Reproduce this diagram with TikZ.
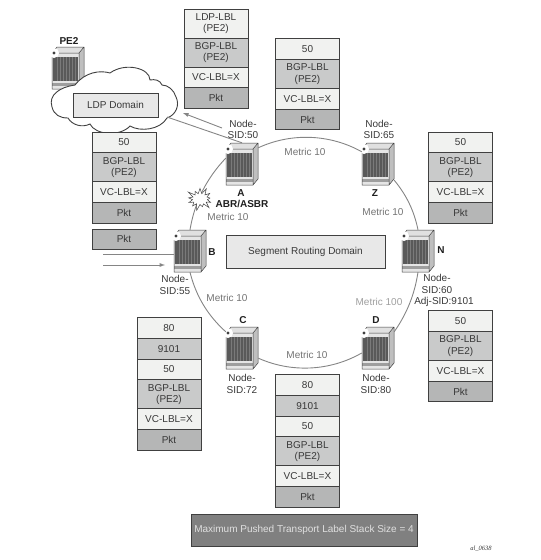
\documentclass[tikz,border=0pt]{standalone}
\usepackage{fontspec}
\setmainfont{Liberation Sans}
\newfontfamily\figfont{Liberation Serif}
\usepackage{tikz}
\usetikzlibrary{shapes,arrows,positioning}

\definecolor{celllight}{HTML}{F1F2F0}
\definecolor{cellmid}{HTML}{C9CACA}
\definecolor{celldark}{HTML}{B5B6B6}
\definecolor{edgedark}{HTML}{404040}
\definecolor{linkgray}{HTML}{858585}

% front, top and side of a chassis around the node #1
\newcommand{\router}[2]{
    \begin{scope}[shift={(#2)}]
        \node(#1)[rtr] at (0,0) {};
        \fill[black!12] (-16,-15) -- (-11,-21) -- (16,-21) -- (11,-15) -- cycle;
        \fill[black!25] (11,-15) -- (16,-21) -- (16,15) -- (11,21) -- cycle;
        \fill[black!10] (-16,-15) rectangle (11,21);
        \fill[black!65] (-15,-11) rectangle (10,13);
        \foreach \xs in {-11,-8,...,8} {
            \draw[black!52, line width=0.6pt] (\xs,-11) -- (\xs,13);
        }
        \fill[black!38] (-16,15) rectangle (11,18);
        \draw[edgedark, line width=0.5pt] (-16,-15) -- (-11,-21) -- (16,-21) -- (16,15)
            -- (11,21) -- (-16,21) -- cycle (-16,-15) -- (11,-15) -- (16,-21) (11,-15) -- (11,21);
        \fill[white] (-14,-15) circle (5);
        \fill[edgedark] (-14,-15) circle (1.6);
    \end{scope}
}

\begin{document}
\begin{tikzpicture}[x=1pt, y=-1pt, align=center, node distance=0pt]
    \tikzset{
        every node/.style =   { font=\fontsize{10}{11.5}\selectfont
                              , text=black!78
        }
        , rtr/.style      =   { rectangle
                              , minimum width=32pt
                              , minimum height=42pt
                              , inner sep=0pt
        }
        , cell/.style     =   { rectangle
                              , draw=edgedark
                              , line width=0.9pt
                              , outer sep=0pt
                              , inner sep=0pt
                              , minimum width=64pt
                              , minimum height=20.8pt
        }
        , lt/.style       =   { cell, fill=celllight }
        , md/.style       =   { cell, fill=cellmid }
        , dk/.style       =   { cell, fill=celldark }
        , two/.style      =   { minimum height=29pt }
        , dombox/.style   =   { rectangle
                              , draw=edgedark
                              , line width=0.9pt
                              , fill=black!9
                              , inner sep=0pt
        }
        , tag/.style      =   { inner sep=0pt }
        , bold/.style     =   { inner sep=0pt
                              , font=\fontsize{10}{11.5}\selectfont\bfseries
                              , text=black!88
        }
        , metric/.style   =   { inner sep=0pt
                              , text=black!55
        }
        , ring/.style     =   { linkgray, line width=0.9pt, looseness=0.9 }
        , flow/.style     =   { linkgray, line width=0.9pt }
    }
    \useasboundingbox (0,0) rectangle (541,560);

    % routers
    \router{pe2}{68,68}
    \router{a}{242,164}
    \router{z}{378,164}
    \router{n}{418,251}
    \router{b}{190,251}
    \router{c}{242,348}
    \router{d}{378,348}

    % ring
    \draw[ring] (a.45)    to[bend left=27] (z.143);
    \draw[ring] (z.-45)   to[bend left=14] (n.north);
    \draw[ring] (n.south) to[bend left=13] (d.45);
    \draw[ring] (d.197)   to[bend left=27] (c.-32);
    \draw[ring] (c.135)   to[bend left=17] (b.south);
    \draw[ring] (b.north) to[bend left=17] (a.160);

    \node(burst)[starburst, starburst points=13, starburst point height=7pt
        , draw=edgedark, fill=white, line width=0.5pt
        , minimum width=29pt, minimum height=25pt, inner sep=0pt] at (200,199) {};

    % LDP side
    \draw[edgedark, fill=white, line width=0.9pt]
        (75,85) .. controls (60,87) and (48,95) .. (52,107)
        .. controls (54,115) and (60,118) .. (68,118)
        .. controls (72,125) and (82,128) .. (90,124)
        .. controls (95,135) and (120,137) .. (130,126)
        .. controls (140,132) and (160,130) .. (167,118)
        .. controls (176,115) and (180,105) .. (176,97)
        .. controls (174,90) and (168,85) .. (162,85)
        .. controls (160,80) and (155,79) .. (150,80)
        .. controls (150,68) and (125,62) .. (110,73)
        .. controls (100,70) and (85,72) .. (75,85) -- cycle;
    \node(ldp)[dombox, minimum width=85pt, minimum height=24pt] at (115.5,105) {LDP Domain};

    \coordinate(cldedge) at (167,117);
    \coordinate(aback)   at (222,128);
    \coordinate(ahead)   at (183,113);
    \coordinate(inone)   at (103,254);
    \coordinate(intwo)   at (103,265);
    \coordinate(intip)   at (165,265);
    \draw[flow] (cldedge) -- (a.north);
    \draw[flow, -latex] (aback) -- (ahead);
    \draw[flow] (inone) -- (b.west |- inone);
    \draw[flow, -latex] (intwo) -- (intip);

    % stacks
    \node(s1a)[lt, two, anchor=north west] at (184,9) {LDP-LBL\\(PE2)};
    \node(s1b)[md, two, below=of s1a] {BGP-LBL\\(PE2)};
    \node(s1c)[lt, below=of s1b]      {VC-LBL=X};
    \node(s1d)[dk, below=of s1c]      {Pkt};

    \node(s2a)[lt, anchor=north west] at (275.5,38.5) {50};
    \node(s2b)[md, two, below=of s2a] {BGP-LBL\\(PE2)};
    \node(s2c)[lt, below=of s2b]      {VC-LBL=X};
    \node(s2d)[dk, below=of s2c]      {Pkt};

    \node(s3a)[lt, anchor=north west] at (92,132) {50};
    \node(s3b)[md, two, below=of s3a] {BGP-LBL\\(PE2)};
    \node(s3c)[lt, below=of s3b]      {VC-LBL=X};
    \node(s3d)[dk, below=of s3c]      {Pkt};
    \node(s3e)[dk, anchor=north west] at (92,229) {Pkt};

    \node(s4a)[lt, anchor=north west] at (428.5,132) {50};
    \node(s4b)[md, two, below=of s4a] {BGP-LBL\\(PE2)};
    \node(s4c)[lt, below=of s4b]      {VC-LBL=X};
    \node(s4d)[dk, below=of s4c]      {Pkt};

    \node(s5a)[lt, anchor=north west] at (428.5,310.5) {50};
    \node(s5b)[md, two, below=of s5a] {BGP-LBL\\(PE2)};
    \node(s5c)[lt, below=of s5b]      {VC-LBL=X};
    \node(s5d)[dk, below=of s5c]      {Pkt};

    \node(s6a)[lt, anchor=north west] at (137,317.5) {80};
    \node(s6b)[md, below=of s6a]      {9101};
    \node(s6c)[lt, below=of s6b]      {50};
    \node(s6d)[md, two, below=of s6c] {BGP-LBL\\(PE2)};
    \node(s6e)[lt, below=of s6d]      {VC-LBL=X};
    \node(s6f)[dk, below=of s6e]      {Pkt};

    \node(s7a)[lt, anchor=north west] at (275.5,374.5) {80};
    \node(s7b)[md, below=of s7a]      {9101};
    \node(s7c)[lt, below=of s7b]      {50};
    \node(s7d)[md, two, below=of s7c] {BGP-LBL\\(PE2)};
    \node(s7e)[lt, below=of s7d]      {VC-LBL=X};
    \node(s7f)[dk, below=of s7e]      {Pkt};

    \node(sr)[dombox, minimum width=159pt, minimum height=33pt] at (305.5,251.5) {Segment Routing Domain};
    \node(maxstack)[dombox, fill=black!50, text=black!12, minimum width=226pt, minimum height=32pt]
        at (304,530) {Maximum Pushed Transport Label Stack Size = 4};

    % names
    \node(lpe2)[bold] at (69,41)   {PE2};
    \node(la)[bold]   at (241,193) {A};
    \node(labr)[bold] at (242,204) {ABR/ASBR};
    \node(lz)[bold]   at (375,193) {Z};
    \node(ln)[bold]   at (441,250) {N};
    \node(lb)[bold]   at (212,252) {B};
    \node(lc)[bold]   at (243,320) {C};
    \node(ld)[bold]   at (376,320) {D};

    \node(ta)[tag] at (243,129.5) {Node-\\SID:50};
    \node(tz)[tag] at (379,129.5) {Node-\\SID:65};
    \node(tn)[tag] at (437,284)   {Node-\\SID:60};
    \node(tj)[tag] at (444,302)   {Adj-SID:9101};
    \node(tb)[tag] at (175,285)   {Node-\\SID:55};
    \node(tc)[tag] at (242,384)   {Node-\\SID:72};
    \node(td)[tag] at (376,384)   {Node-\\SID:80};

    \node(m1)[metric] at (305,152) {Metric 10};
    \node(m2)[metric] at (383,212) {Metric 10};
    \node(m3)[metric, text=black!38] at (379,302) {Metric 100};
    \node(m4)[metric] at (307,355) {Metric 10};
    \node(m5)[metric] at (227,298) {Metric 10};
    \node(m6)[metric] at (228,217) {Metric 10};

    \node(fig)[tag, font=\fontsize{6.5}{8}\selectfont\figfont\itshape] at (481,549) {al\_0638};
\end{tikzpicture}
\end{document}
